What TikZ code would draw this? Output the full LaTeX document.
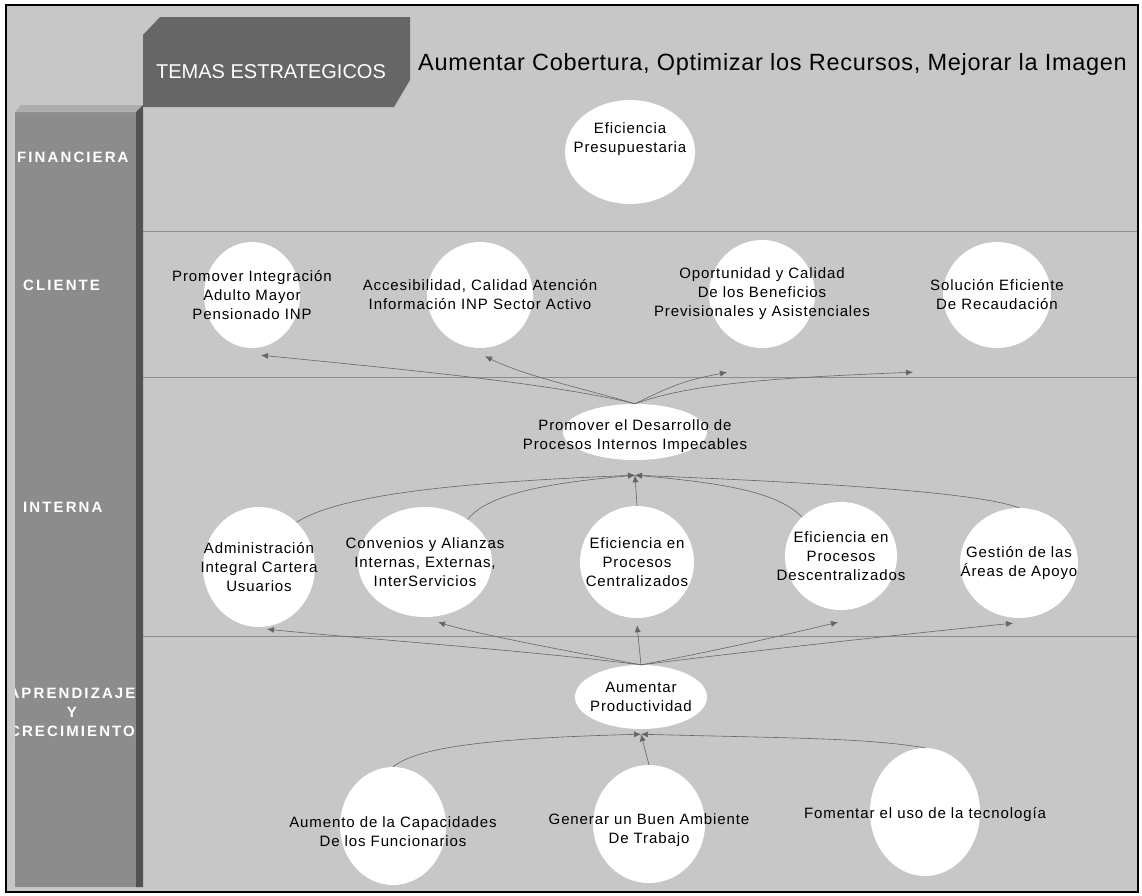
\documentclass[tikz,border=0pt]{standalone}
\usepackage{fontspec}
\setmainfont{Liberation Sans}[LetterSpace=6]
\newfontfamily\titlefont{Liberation Sans}[LetterSpace=3]
\newfontfamily\tabfont{Liberation Sans}
\newfontfamily\labelfont{Liberation Sans}[LetterSpace=14]
\usetikzlibrary{shapes.geometric, arrows.meta, calc}

\colorlet{bggray}{black!22}
\colorlet{colgray}{black!45}
\colorlet{tabgray}{black!60}

\begin{document}
\begin{tikzpicture}[x=1pt, y=-1pt,
	obj/.style   = {ellipse, fill=white, inner sep=0pt},
	txt/.style   = {align=center, text=black, font=\fontsize{15}{19}\selectfont},
	persp/.style = {text=white, font=\labelfont\bfseries\fontsize{15}{19}\selectfont},
	sep/.style   = {draw=black!45, line width=0.8pt},
	conn/.style  = {->, draw=black!60, line width=0.6pt},
	>={Latex[length=7pt, width=6pt]}]
	
	\useasboundingbox (0,0) rectangle (1142,895);
	\fill[white] (0,0) rectangle (1142,895);
	\draw[fill=bggray, line width=1.2pt] (6,5) rectangle (1138,892);
	
	% column of perspectives and the header tab
	\fill[colgray] (15,112) rectangle (136,887);
	\fill[black!32] (15,112) -- (21,105) -- (143,105) -- (136,112) -- cycle;
	\fill[black!68] (136,112) -- (143,105) -- (143,887) -- (136,887) -- cycle;
	\fill[tabgray] (143,35) -- (160,17) -- (410,17) -- (410,80) -- (394,107) -- (143,107) -- cycle;
	
	\node[anchor=base, inner sep=0pt, text=white, font=\tabfont\fontsize{20}{24}\selectfont] (temas) at (271,78) {TEMAS ESTRATEGICOS};
	\node[anchor=base west, inner sep=0pt, font=\titlefont\fontsize{23.5}{28}\selectfont] (tema) at (418,70) {Aumentar Cobertura, Optimizar los Recursos, Mejorar la Imagen};
	
	% separators between the perspectives
	\foreach \y in {231,377,636}
	\draw[sep] (143,\y) -- (1137,\y);
	
	% perspective names
	\node[persp, anchor=base west, inner sep=0pt] (fin) at (17,162) {FINANCIERA};
	\node[persp, anchor=base west, inner sep=0pt] (cli) at (23,290) {CLIENTE};
	\node[persp, anchor=base west, inner sep=0pt] (inter) at (23,512) {INTERNA};
	\begin{scope}
		\clip (15,600) rectangle (136,800);
		\node[persp, align=center] (apr) at (72,712) {APRENDIZAJE\\Y\\CRECIMIENTO};
	\end{scope}
	
	% financial and client objectives
	\node[obj, minimum width=130pt, minimum height=104pt, label={[txt, yshift=13pt]center:{Eficiencia\\Presupuestaria}}] (presu) at (630,152) {};
	\node[obj, minimum width=96pt, minimum height=106pt, label={[txt]center:{Promover Integración\\Adulto Mayor\\Pensionado INP}}] (integ) at (252,295) {};
	\node[obj, minimum width=106pt, minimum height=106pt, label={[txt]center:{Accesibilidad, Calidad Atención\\Información INP Sector Activo}}] (acces) at (480,295) {};
	\node[obj, minimum width=106pt, minimum height=108pt, label={[txt]center:{Oportunidad y Calidad\\De los Beneficios\\Previsionales y Asistenciales}}] (oport) at (762,294) {};
	\node[obj, minimum width=108pt, minimum height=106pt, label={[txt]center:{Solución Eficiente\\De Recaudación}}] (recau) at (997,295) {};
	
	% internal objectives
	\node[obj, minimum width=144pt, minimum height=56pt, label={[txt, yshift=-4pt]center:{Promover el Desarrollo de\\Procesos Internos Impecables}}] (proc) at (635,432) {};
	\node[obj, minimum width=112pt, minimum height=120pt, label={[txt]center:{Administración\\Integral Cartera\\Usuarios}}] (admin) at (259,567) {};
	\node[obj, minimum width=134pt, minimum height=110pt, label={[txt]center:{Convenios y Alianzas\\Internas, Externas,\\InterServicios}}] (conven) at (425,562) {};
	\node[obj, minimum width=114pt, minimum height=112pt, label={[txt]center:{Eficiencia en\\Procesos\\Centralizados}}] (centr) at (637,562) {};
	\node[obj, minimum width=112pt, minimum height=108pt, label={[txt]center:{Eficiencia en\\Procesos\\Descentralizados}}] (descen) at (841,556) {};
	\node[obj, minimum width=118pt, minimum height=110pt, label={[txt]center:{Gestión de las\\Áreas de Apoyo}}] (gest) at (1019,563) {};
	
	% learning objectives
	\node[obj, minimum width=132pt, minimum height=64pt, label={[txt]center:{Aumentar\\Productividad}}] (ap) at (641,697) {};
	\node[obj, minimum width=106pt, minimum height=118pt, label={[txt, yshift=-6pt]center:{Aumento de la Capacidades\\De los Funcionarios}}] (capac) at (393,826) {};
	\node[obj, minimum width=112pt, minimum height=118pt, label={[txt, yshift=-6pt]center:{Generar un Buen Ambiente\\De Trabajo}}] (ambie) at (649,824) {};
	\node[obj, minimum width=110pt, minimum height=128pt, label={[txt, yshift=-3pt]center:{Fomentar el uso de la tecnología}}] (tecno) at (925,812) {};
	
	\coordinate (procin) at ($(proc.south)+(0,15)$);
	\coordinate (apin) at ($(ap.south)+(0,5)$);
	
	% internal processes up to the client objectives
	\draw[conn] (proc.north) .. controls +(-80,-20) and +(150,15) .. ($(integ.south)+(9,7)$);
	\draw[conn] (proc.north) .. controls +(-50,-15) and +(40,20) .. ($(acces.south)+(5,8)$);
	\draw[conn] (proc.north) .. controls +(40,-20) and +(-40,8) .. ($(oport.south)+(-35,24)$);
	\draw[conn] (proc.north) .. controls +(60,-22) and +(-120,5) .. ($(recau.south)+(-84,24)$);
	
	% internal objectives into the processes
	\draw[conn] (admin.50) .. controls +(40,-25) and +(-200,8) .. (procin);
	\draw[conn] (conven.45) .. controls +(20,-25) and +(-90,8) .. (procin);
	\draw[conn] (centr.north) -- (procin);
	\draw[conn] (descen.135) .. controls +(-25,-25) and +(90,8) .. (procin);
	\draw[conn] (gest.north) .. controls +(-40,-15) and +(200,8) .. (procin);
	
	% productivity up to the internal objectives
	\draw[conn] (ap.north) .. controls +(-120,-15) and +(100,10) .. ($(admin.south)+(8,2)$);
	\draw[conn] (ap.north) .. controls +(-80,-15) and +(40,12) .. ($(conven.south)+(13,5)$);
	\draw[conn] (ap.north) -- ($(centr.south)+(0,7)$);
	\draw[conn] (ap.north) .. controls +(80,-15) and +(-50,12) .. ($(descen.south)+(-3,12)$);
	\draw[conn] (ap.north) .. controls +(120,-15) and +(-100,10) .. ($(gest.south)+(-6,5)$);
	
	% learning objectives into productivity
	\draw[conn] (capac.north) .. controls +(25,-20) and +(-150,4) .. (apin);
	\draw[conn] (ambie.north) -- (apin);
	\draw[conn] (tecno.north) .. controls +(-60,-10) and +(150,4) .. (apin);
\end{tikzpicture}
\end{document}
